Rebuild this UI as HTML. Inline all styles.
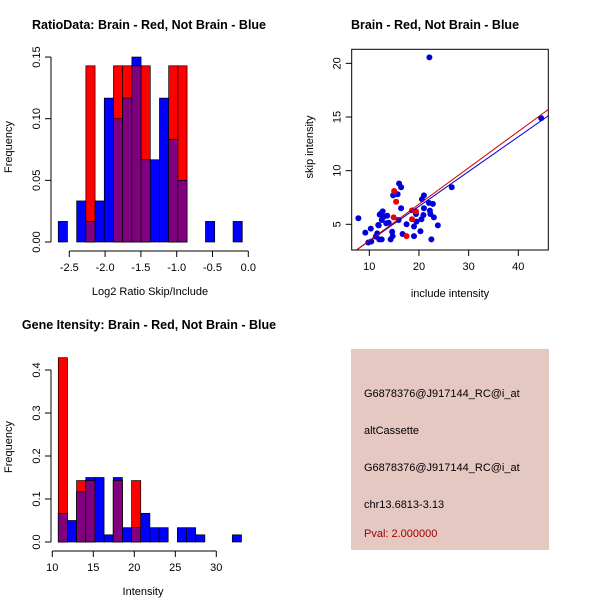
<!DOCTYPE html>
<html><head><meta charset="utf-8"><style>
body{margin:0;background:#fff}
svg{display:block;font-family:"Liberation Sans",sans-serif}
</style></head><body>
<svg id="s" width="600" height="600" xmlns="http://www.w3.org/2000/svg">
<rect width="600" height="600" fill="#fff"/>
<text x="149" y="29" font-size="12.5" font-weight="bold" text-anchor="middle">RatioData: Brain - Red, Not Brain - Blue</text>
<text x="435" y="29" font-size="12.5" font-weight="bold" text-anchor="middle">Brain - Red, Not Brain - Blue</text>
<text x="149" y="329" font-size="12.5" font-weight="bold" text-anchor="middle">Gene Itensity: Brain - Red, Not Brain - Blue</text>
<g id="p1"></g>
<g id="p2"></g>
<g id="p3"></g>
<g>
<rect x="351" y="349" width="198" height="201" fill="#e6c8c2"/>
<text x="364" y="397" font-size="11">G6878376@J917144_RC@i_at</text>
<text x="364" y="434" font-size="11">altCassette</text>
<text x="364" y="471" font-size="11">G6878376@J917144_RC@i_at</text>
<text x="364" y="508" font-size="11">chr13.6813-3.13</text>
<text x="364" y="537" font-size="11" fill="#a00000">Pval: 2.000000</text>
</g>
</svg>
<script>
const NS="http://www.w3.org/2000/svg";
// Ratio histogram data
const ratioBinStart=-2.654, ratioBinWidth=0.1285;
const ratioBlue=[0.0167,0,0.0333,0.0167,0.0333,0.1167,0.1,0.1167,0.15,0.0667,0.0667,0.1167,0.0833,0.05,0,0,0.0167,0,0,0.0167];
const ratioRed=[0,0,0,0.1429,0,0,0.1429,0.1429,0.1429,0.1429,0,0,0.1429,0.1429,0,0,0,0,0,0];
const ratioXTicks=[-2.5,-2.0,-1.5,-1.0,-0.5,0.0];
const ratioYTicks=[0,0.05,0.10,0.15];
// Intensity histogram data
const intBinStart=10.73, intBinWidth=1.117;
const intBlue=[0.0667,0.05,0.1167,0.15,0.15,0.0167,0.15,0.0333,0.0333,0.0667,0.0333,0.0333,0,0.0333,0.0333,0.0167,0,0,0,0.0167];
const intRed=[0.4286,0,0.1429,0.1429,0,0,0.1429,0,0.1429,0,0,0,0,0,0,0,0,0,0,0];
const intXTicks=[10,15,20,25,30];
const intYTicks=[0,0.1,0.2,0.3,0.4];
// Scatter data
const blueX=[7.8,9.2,10.3,10.4,9.8,11.3,11.6,12.0,12.5,11.8,12.1,12.7,12.5,12.9,13.4,13.6,13.9,14.3,14.6,14.7,14.8,15.7,16.0,16.4,15.9,16.4,16.7,17.5,19.0,19.0,19.4,19.5,20.3,20.5,20.6,21.0,21.0,20.9,22.0,22.1,22.2,22.3,22.5,22.8,23.0,23.8,26.6,44.6,12.3,11.9];
const blueY=[5.56,4.22,4.6,3.4,3.3,3.85,4.16,3.6,3.6,4.94,5.9,6.2,5.4,5.7,5.1,5.8,5.15,3.6,4.3,3.9,7.7,7.8,8.8,8.45,5.4,6.5,4.1,5.0,3.9,4.8,5.96,5.25,4.35,5.47,7.33,7.7,6.5,5.87,7.0,20.56,6.27,5.96,3.6,6.9,5.65,4.9,8.45,14.9,6.0,4.9];
const redX=[15.0,15.4,14.9,17.5,18.6,18.6,19.4];
const redY=[8.1,7.1,5.65,3.9,6.3,5.47,6.2];
const redFit=[0.09,0.339], blueFit=[0.2,0.324];
const scXTicks=[10,20,30,40], scYTicks=[5,10,15,20];

function mk(p,tag,a,name){const e=document.createElementNS(NS,tag);for(const k in a)e.setAttribute(k,a[k]);


p.appendChild(e);return e;}

function hist(g,o){
  const sx=v=>o.x0+(v-o.xv0)*o.kx, sy=v=>o.y0-v*o.ky;
  o.blue.forEach((b,i)=>{
    const r=o.red[i],l=sx(o.bs+i*o.bw),w=o.bw*o.kx;
    if(b>0) mk(g,'rect',{x:l,y:sy(b),width:w,height:b*o.ky,fill:'#0000ff',stroke:'#000','stroke-width':0.7},'blue-bar');
    if(r>0) mk(g,'rect',{x:l,y:sy(r),width:w,height:r*o.ky,fill:'#ff0000',stroke:'#000','stroke-width':0.7},'red-bar');
    const m=Math.min(b,r);
    if(m>0) mk(g,'rect',{x:l,y:sy(m),width:w,height:m*o.ky,fill:'#800080',stroke:'#000','stroke-width':0.7},'overlap-bar');
  });
  const xt=o.xt;
  mk(g,'line',{x1:sx(xt[0]),x2:sx(xt[xt.length-1]),y1:o.ax,y2:o.ax,stroke:'#000'},'x-axis');
  xt.forEach(t=>{mk(g,'line',{x1:sx(t),x2:sx(t),y1:o.ax,y2:o.ax+6,stroke:'#000'},'x-tick');
    const tx=mk(g,'text',{x:sx(t),y:o.ax+20,'font-size':11,'text-anchor':'middle'},'x-tick-label');tx.textContent=o.fmtx(t);});
  const yt=o.yt;
  mk(g,'line',{x1:o.ay,x2:o.ay,y1:sy(yt[0]),y2:sy(yt[yt.length-1]),stroke:'#000'},'y-axis');
  yt.forEach(t=>{mk(g,'line',{x1:o.ay,x2:o.ay-6,y1:sy(t),y2:sy(t),stroke:'#000'},'y-tick');
    const tx=mk(g,'text',{x:0,y:0,'font-size':11,'text-anchor':'middle',transform:`translate(${o.ay-11},${sy(t)}) rotate(-90)`},'y-tick-label');tx.textContent=o.fmty(t);});
  const xl=mk(g,'text',{x:o.xlx,y:o.ax+44,'font-size':11,'text-anchor':'middle'},'x-axis-title');xl.textContent=o.xlab;
  const yl=mk(g,'text',{x:0,y:0,'font-size':11,'text-anchor':'middle',transform:`translate(12,${o.yly}) rotate(-90)`},'y-axis-title');yl.textContent='Frequency';
}
hist(document.getElementById('p1'),{x0:69.3,xv0:-2.5,kx:71.6,y0:242,ky:1233,bs:ratioBinStart,bw:ratioBinWidth,blue:ratioBlue,red:ratioRed,xt:ratioXTicks,yt:ratioYTicks,ax:251,ay:51,fmtx:t=>t.toFixed(1),fmty:t=>t.toFixed(2),xlab:'Log2 Ratio Skip/Include',xlx:150,yly:147});
hist(document.getElementById('p3'),{x0:52.3,xv0:10,kx:8.2,y0:542,ky:430,bs:intBinStart,bw:intBinWidth,blue:intBlue,red:intRed,xt:intXTicks,yt:intYTicks,ax:551,ay:51,fmtx:t=>String(t),fmty:t=>t.toFixed(1),xlab:'Intensity',xlx:143,yly:447});

// scatter
(function(){
  const g=document.getElementById('p2');
  const L=351.7,R=548.3,T=49.3,B=250;
  const sx=v=>369.3+(v-10)*4.967, sy=v=>224.3-(v-5)*10.73;
  const xmin=(L-369.3)/4.967+10,xmax=(R-369.3)/4.967+10;
  const cp=mk(g,'clipPath',{id:'clp'},'clip');mk(cp,'rect',{x:L,y:T,width:R-L,height:B-T},'clip-rect');
  blueX.forEach((x,i)=>mk(g,'circle',{cx:sx(x),cy:sy(blueY[i]),r:3,fill:'#0000dd'},'blue-point'));
  redX.forEach((x,i)=>mk(g,'circle',{cx:sx(x),cy:sy(redY[i]),r:3,fill:'#ee0000'},'red-point'));
  [[blueFit,'#0000cc','blue-fit-line'],[redFit,'#cc0000','red-fit-line']].forEach(([f,c,n])=>{
    mk(g,'line',{x1:sx(xmin),y1:sy(f[0]+f[1]*xmin),x2:sx(xmax),y2:sy(f[0]+f[1]*xmax),stroke:c,'stroke-width':1,'clip-path':'url(#clp)'},n);});
  mk(g,'rect',{x:L,y:T,width:R-L,height:B-T,fill:'none',stroke:'#000'},'plot-box');
  scXTicks.forEach(t=>{mk(g,'line',{x1:sx(t),x2:sx(t),y1:B,y2:B+6,stroke:'#000'},'x-tick');
    const tx=mk(g,'text',{x:sx(t),y:B+20,'font-size':11,'text-anchor':'middle'},'x-tick-label');tx.textContent=t;});
  scYTicks.forEach(t=>{mk(g,'line',{x1:L,x2:L-6,y1:sy(t),y2:sy(t),stroke:'#000'},'y-tick');
    const tx=mk(g,'text',{x:0,y:0,'font-size':11,'text-anchor':'middle',transform:`translate(${L-11},${sy(t)}) rotate(-90)`},'y-tick-label');tx.textContent=t;});
  const xl=mk(g,'text',{x:450,y:297,'font-size':11,'text-anchor':'middle'},'x-axis-title');xl.textContent='include intensity';
  const yl=mk(g,'text',{x:0,y:0,'font-size':11,'text-anchor':'middle',transform:'translate(313,147) rotate(-90)'},'y-axis-title');yl.textContent='skip intensity';
})();
</script>
</body></html>
